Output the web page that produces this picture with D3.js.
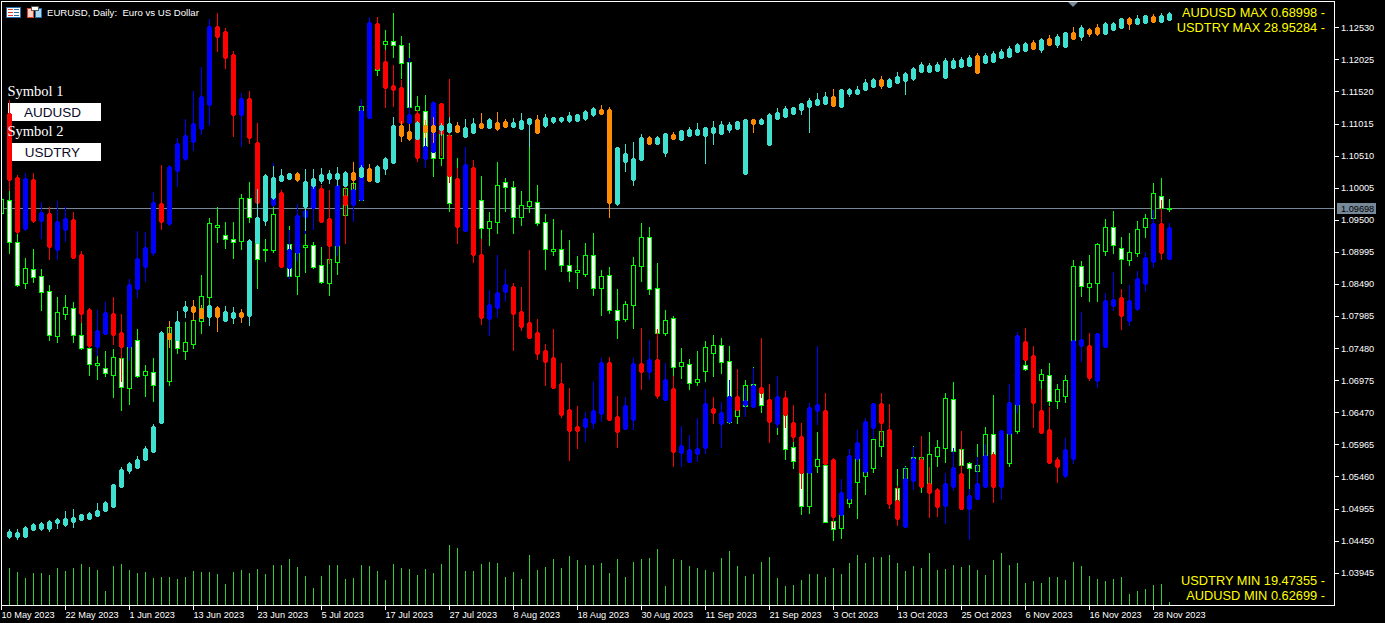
<!DOCTYPE html>
<html><head><meta charset="utf-8">
<script src="https://cdn.jsdelivr.net/npm/d3@7/dist/d3.min.js"></script>
<style>html,body{margin:0;padding:0;background:#000;overflow:hidden}svg{display:block}</style>
</head><body><svg id="c" width="1385" height="623"></svg>
<script>
// Rows are [open, high, low, close]. EURUSD and AUDUSD are in 1e-5 price points, USDTRY in 1e-3 points.
const eurusdBars=[
[109622,109906,109575,109843],[109827,109984,108993,109166],[109166,109323,108473,108489],[108521,108914,108442,108757],[108741,109056,108536,108615],[108631,108741,108096,108379],[108395,108489,107623,107702],[107686,108300,107592,108064],[108033,108332,107954,108143],[108127,108222,107592,107702],
[107702,107907,107482,107497],[107497,107576,107073,107246],[107230,107387,107010,107261],[107183,107450,107057,107104],[107073,107482,106726,107356],[107340,107513,106522,106884],[106868,107545,106616,107513],[107623,107797,107041,107057],[107073,107230,106742,107136],[107120,107340,106663,106915],
[106994,107702,106758,107309],[106978,107907,106915,107828],[107860,107938,107419,107497],[107450,107907,107324,107592],[107561,107970,107498,107938],[107923,108647,107734,108316],[108300,109544,108174,109465],[109402,109717,109166,109434],[109276,109481,109071,109213],[109213,109481,108914,109166],
[109182,109921,109056,109859],[109859,110110,109481,109559],[109481,109748,108442,108898],[109040,109213,108867,109056],[109040,109748,109008,109607],[109591,109701,109040,109150],[109134,109418,108599,108631],[108631,109591,108347,109481],[109087,109308,108694,109119],[109119,109166,108757,108772],
[108804,109087,108521,108536],[108521,109040,108332,108898],[108851,109197,108662,109119],[109591,110079,109544,110016],[110000,110205,109890,110095],[109827,111322,109827,111307],[111275,112031,111165,111873],[111873,112503,111795,112267],[112282,112503,112031,112330],[112330,112770,112078,112267],
[112267,112408,111747,111983],[111999,112298,111118,111291],[111244,111464,111118,111307],[111228,111480,110488,110583],[110583,111086,110205,110488],[110488,111008,110378,110866],[110850,111008,109654,109780],[109434,110488,109386,109906],[109434,110268,109355,109906],[109827,110299,109197,109355],
[109827,110205,109213,109386],[109386,109638,109119,109497],[109481,110425,109308,110063],[110110,110173,109654,110032],[110032,110126,109308,109559],[109559,109969,109434,109748],[109733,110661,109638,109811],[109796,110063,109434,109465],[109481,109607,108741,109056],[109024,109528,108961,109056],
[109056,109355,108709,108804],[108804,109197,108552,108709],[108694,108946,108442,108725],[108662,109150,108631,108961],[108961,109308,108332,108442],[108442,108725,108017,108631],[108647,108773,108048,108096],[108096,108426,107655,107938],[107954,108237,107923,108190],[108174,108930,107812,108804],
[108788,109465,108552,109245],[109245,109402,108347,108426],[108442,108835,107623,107734],[107734,108096,107702,107938],[107970,108001,107057,107199],[107214,107497,107025,107277],[107246,107324,106852,106946],[106962,107450,106915,107010],[107136,107608,106978,107513],[107419,107702,107057,107545],
[107545,107655,107104,107277],[107293,107529,106317,106333],[106427,106758,106317,106679],[106585,106994,106475,106915],[106600,107199,106569,106931],[106789,106915,106490,106600],[106679,106758,106317,106364],[106333,106726,106144,106679],[106443,106679,105750,105908],[105939,106034,105609,105719],
[105813,106049,104885,105011],[105011,106522,104901,105735],[105640,106175,105546,105750],[105656,105735,104759,104759],[104775,104869,104475,104648],[104664,105420,104507,104948],[105058,105656,104995,105577],[105388,105813,104822,105750],[105483,106207,105199,106049],[105609,106175,105546,106065],
[105955,106286,105798,106191],[106049,106175,105105,105262],[105294,105593,104869,105026],[105262,105640,105184,105609],[105451,105955,105341,105782],[105451,106049,105231,105782],[105373,106175,105105,105829],[105798,106049,105640,105939],[105923,106789,105703,106711],[106695,106962,105577,105876],
[105908,106049,105499,105656],[105687,105703,105278,105609],[105562,105986,105357,105656],[105813,106254,105766,106144],[106144,106758,105766,105813],[105892,106175,105813,106128],[105688,106600,105640,106521],[106191,106994,106160,106915],[107230,107309,107151,107167],[107183,107309,106758,106836],
[106994,107167,106836,107088],[107073,107261,106600,106663],[106663,106931,106553,106852],[106742,107073,106647,106994],[107073,108883,106915,108788],[108788,108867,108316,108473],[108458,108961,108237,108521],[108521,109150,108237,109134],[109024,109528,108961,109402],[109402,109654,108993,109119],
[109071,109245,108521,108898],[108883,109308,108804,109008],[108993,109496,108946,109371],[109402,109607,109245,109544],[109544,110095,109434,109937],[109890,110173,109701,109701],[109685,109843,109654,109698]];

const audusdBars=[
[67839,67996,66910,67030],[67067,67091,66391,66403],[66439,67115,66427,67055],[67042,67115,66523,66536],[66536,66765,66330,66644],[66632,66705,66077,66222],[66185,66777,66077,66536],[66427,66705,66294,66572],[66560,66644,66089,66089],[66137,66173,65316,65413],
[65473,65485,65015,65027],[65015,65461,64918,65220],[65172,65558,65172,65437],[65425,65618,65051,65160],[65196,65413,64604,65015],[65015,65835,64858,65775],[65715,66415,65618,66089],[65980,66403,65811,66222],[66149,66886,66125,66765],[66753,67211,66439,66523],
[66499,67211,66487,67199],[67139,67537,66958,67477],[67284,67767,67272,67574],[67489,68105,67392,67718],[67646,68394,67586,68044],[67936,68974,67694,68889],[68889,69046,68587,68756],[68829,68865,68382,68503],[68551,68587,67561,67815],[67815,68080,67441,68020],
[68020,68105,67477,67537],[67489,67718,66753,66753],[66910,66970,66608,66608],[66729,67236,66717,66970],[66886,66910,65980,65980],[65968,66427,65848,66198],[66149,66741,66053,66608],[66584,66910,66391,66668],[66692,67006,66439,66970],[66934,66970,66523,66523],
[66572,66910,66029,66234],[66234,67030,66125,66970],[66849,66946,66270,66729],[66729,67030,66536,66922],[66789,68008,66789,67875],[67779,68998,67779,68937],[68925,68998,68370,68370],[68467,68599,67912,68141],[68177,68418,67924,68117],[68153,68237,67718,67718],
[67718,68503,67718,67827],[67839,67875,67260,67296],[67284,67598,67187,67441],[67368,67984,67368,67972],[67960,67960,67332,67586],[67574,68249,67006,67079],[67055,67175,66270,66463],[66415,67429,66415,67224],[67187,67272,66041,66125],[66137,66318,65292,65365],
[65353,65703,65160,65534],[65485,66125,65377,65679],[65679,65956,65570,65775],[65751,65787,64978,65413],[65449,65739,65220,65256],[65316,66185,65123,65123],[65196,65353,64870,64930],[64978,65051,64556,64834],[64894,65232,64520,64520],[64580,64822,64170,64194],
[64266,64520,63651,64001],[64061,64303,63796,64001],[64049,64230,63880,64158],[64097,64592,64037,64254],[64206,64882,64122,64834],[64834,64894,64134,64134],[64182,64423,63808,63989],[64025,64411,64025,64315],[64134,64882,64025,64822],[64822,65244,64508,64713],
[64713,65099,64628,64870],[64870,65232,64399,64423],[64375,64822,64375,64628],[64520,64665,63578,63747],[63735,64061,63578,63832],[63627,63953,63627,63784],[63723,64158,63639,63796],[63796,64508,63735,64339],[64278,64411,64097,64218],[64085,64351,63808,64230],
[64109,64616,64109,64423],[64423,64749,64254,64254],[64315,64520,64182,64375],[64291,64761,64291,64556],[64532,65123,64411,64459],[64387,64568,63868,64109],[64085,64665,64049,64423],[64411,64484,64049,64194],[64109,64315,63880,63928],[63940,64097,63313,63494],
[63494,64339,63494,64291],[64242,65027,64085,64327],[64254,64459,63603,63603],[63663,63675,62842,62963],[62987,63421,62987,63265],[63180,63784,63180,63711],[63663,64013,63639,63868],[63506,64158,63506,64122],[64037,64339,63916,64339],[64339,64459,63892,64097],
[64025,64327,63071,63120],[63168,63337,62866,62939],[62842,63566,62842,63434],[63397,63808,63301,63675],[63663,63940,63325,63325],[63373,63566,62963,63252],[63301,63313,62975,63084],[63096,63494,62890,63373],[63325,63796,63289,63566],[63494,64001,63059,63059],
[63059,63301,62697,63228],[63180,63687,63180,63373],[63325,63844,63325,63711],[63723,63747,63144,63325],[63325,64013,63180,64013],[63965,64568,63965,64351],[64315,65196,64218,65160],[65087,65244,64858,64858],[64918,65027,64049,64339],[64254,64508,63977,63977],
[64025,64291,63615,63615],[63663,63687,63385,63566],[63458,63916,63446,63784],[63663,65099,63615,65099],[65027,65437,64846,65111],[65039,65184,64616,64641],[64604,65184,64532,65184],[65015,65666,65015,65582],[65510,65920,65461,65594],[65618,65715,65232,65389],
[65329,65763,65280,65582],[65473,65932,65461,65848],[65775,66161,65691,66101],[66041,66668,65980,66511],[66511,66789,66077,66149],[66077,66511,66077,66463]];

const usdtryBars=[
[19503,19647,19485,19611],[19503,19647,19467,19593],[19503,19701,19503,19683],[19629,19755,19629,19737],[19647,19773,19629,19755],[19647,19809,19611,19791],[19755,19845,19665,19827],[19719,19971,19701,19845],[19773,20007,19683,19863],[19809,19917,19809,19917],
[19827,19953,19827,19935],[19881,20115,19881,19989],[19971,20151,19971,20133],[20043,20457,20043,20457],[20403,20763,20403,20727],[20691,20853,20655,20835],[20745,20961,20745,20907],[20889,21141,20889,21105],[21033,21537,21033,21501],[21555,23211,21555,23193],
[23175,23391,22923,23067],[23049,23571,23049,23391],[23571,23751,23463,23661],[23661,23769,23409,23553],[23625,23679,23445,23445],[23463,23679,23319,23679],[23643,23661,23211,23463],[23391,23661,23391,23571],[23445,23643,23355,23553],[23553,23607,23373,23463],
[23481,24867,23319,24849],[24795,25767,24795,25263],[25191,26037,25119,26019],[25605,26181,25587,25983],[25911,26127,25911,26019],[25947,26055,25947,26055],[26055,26073,25911,25929],[25443,26127,25029,25911],[25821,26127,25785,25965],[25911,26145,25875,26037],
[25947,26109,25875,26055],[25947,26163,25839,26055],[25821,26091,25821,26073],[26073,26253,25785,25929],[25983,26199,25983,26163],[26145,26217,25911,25911],[25893,26199,25893,26181],[26127,26343,26037,26325],[26235,27063,26235,26919],[26919,26991,26631,26721],
[26811,26937,26649,26667],[26667,26991,26667,26973],[26919,27009,26703,26793],[26919,27063,26613,26793],[26829,26955,26739,26919],[26793,27063,26793,26955],[26919,26973,26793,26793],[26703,27027,26703,26883],[26775,27045,26775,26955],[26955,27135,26865,26865],
[26865,27045,26865,27027],[26973,27153,26829,26847],[26991,27027,26883,26883],[26883,27045,26883,26973],[26847,27135,26847,27009],[26937,27045,26541,27045],[27027,27099,26775,26775],[26901,27117,26883,27063],[26973,27063,26955,27063],[26991,27063,26973,27063],
[26991,27153,26973,27099],[26991,27117,26991,27117],[27027,27189,27009,27171],[27099,27243,27081,27225],[27207,27279,27117,27117],[27207,27243,25263,25515],[25497,26523,25479,26523],[26253,26577,26091,26415],[25929,26613,25839,26325],[26289,26757,26289,26703],
[26703,26721,26577,26577],[26577,26721,26577,26703],[26415,26775,26361,26775],[26757,26793,26667,26667],[26649,26829,26649,26829],[26721,26883,26721,26847],[26739,26955,26739,26847],[26721,26883,26235,26883],[26775,26991,26577,26883],[26757,26991,26757,26937],
[26829,26973,26793,26937],[26847,26991,26847,26991],[26037,27027,26037,27027],[27027,27027,26793,26937],[26937,27045,26937,27027],[26559,27135,26559,27117],[27027,27225,27027,27153],[27063,27261,27063,27225],[27117,27243,27117,27243],[27189,27315,27117,27315],
[27243,27405,26793,27369],[27279,27495,27279,27387],[27297,27513,27297,27441],[27441,27567,27261,27261],[27243,27567,27243,27567],[27477,27585,27441,27567],[27477,27621,27477,27567],[27549,27747,27549,27693],[27603,27765,27603,27747],[27747,27801,27585,27621],
[27603,27765,27603,27747],[27675,27873,27675,27801],[27711,27873,27477,27855],[27747,27963,27729,27945],[27873,28053,27873,28017],[27873,28035,27873,27999],[27891,28053,27891,28017],[27765,28125,27765,28089],[27945,28125,27945,28089],[27963,28143,27963,28107],
[27981,28179,27981,28143],[28179,28215,27855,27855],[28035,28215,28035,28179],[28053,28251,28053,28215],[28125,28287,28125,28251],[28143,28341,28143,28305],[28233,28395,28233,28377],[28251,28413,28251,28395],[28413,28449,28287,28287],[28269,28485,28233,28467],
[28485,28539,28359,28359],[28359,28557,28323,28521],[28323,28593,28323,28593],[28593,28683,28467,28467],[28503,28719,28449,28683],[28647,28665,28521,28557],[28683,28737,28539,28557],[28557,28773,28557,28755],[28629,28773,28629,28755],[28665,28845,28665,28845],
[28845,28863,28647,28737],[28737,28899,28737,28845],[28755,28899,28755,28899],[28881,28917,28773,28773],[28773,28935,28773,28899],[28809,28953,28809,28935]];

// tick volume in thousands, one per bar after the first
const tickVolume=[37,33,27,32,32,30,37,34,37,41,38,35,14,39,41,35,32,33,27,28,28,26,28,34,33,33,31,21,33,35,32,36,31,40,40,46,38,29,17,29,40,40,26,27,40,39,34,25,41,
37,36,30,36,32,41,60,57,34,34,41,43,42,28,33,26,50,35,38,46,37,49,45,40,40,42,32,46,28,43,46,47,56,19,46,45,39,37,35,33,47,54,39,29,31,43,48,27,19,20,25,31,31,28,37,31,42,50,42,48,48,50,42,34,39,37,52,35,36,40,38,40,35,30,45,52,40,42,22,24,22,28,28,25,43,39,29,26,24,26,28,11,14,16,20,21,3];

const priceTicks=[1.12530,1.12025,1.11520,1.11015,1.10510,1.10005,1.09500,1.08995,1.08490,1.07985,1.07480,1.06975,1.06470,1.05965,1.05460,1.04955,1.04450,1.03945];
const dateLabels=["10 May 2023","22 May 2023","1 Jun 2023","13 Jun 2023","23 Jun 2023","5 Jul 2023","17 Jul 2023","27 Jul 2023","8 Aug 2023","18 Aug 2023","30 Aug 2023","11 Sep 2023","21 Sep 2023","3 Oct 2023","13 Oct 2023","25 Oct 2023","6 Nov 2023","16 Nov 2023","28 Nov 2023"];
const lastPrice=1.09698;
const symbolBoxes=[["Symbol 1","AUDUSD"],["Symbol 2","USDTRY"]];
const rangeTop=["AUDUSD MAX 0.68998 -","USDTRY MAX 28.95284 -"];
const rangeBottom=["USDTRY MIN 19.47355 -","AUDUSD MIN 0.62699 -"];

const svg=d3.select("#c");
const SANS="'Liberation Sans',Arial,sans-serif";
const x=d3.scaleLinear().domain([0,146]).range([1,1169]);
const yEur=d3.scaleLinear().domain([1.03945,1.12530]).range([573.7,28.3]);
const yAud=d3.scaleLinear().domain([0.62699,0.68998]).range([538.9,17]);
const yTry=d3.scaleLinear().domain([19.47355,28.95284]).range([538.6,12]);
const yVol=d3.scaleLinear().domain([0,60]).range([605,545]);

svg.append("rect").attr("width",1385).attr("height",623).attr("fill","#000");
const root=svg.append("g").attr("shape-rendering","crispEdges");

// last-price line
root.append("rect").attr("x",1).attr("y",Math.round(yEur(lastPrice))).attr("width",1334).attr("height",1).attr("fill","#778899");

// header
svg.append("text").attr("x",47).attr("y",16).attr("fill","#fff").attr("font-family",SANS).attr("font-size",9.65).style("white-space","pre").text("EURUSD, Daily:  Euro vs US Dollar");
const ic=root.append("g");
ic.append("rect").attr("x",6.5).attr("y",7.5).attr("width",14).attr("height",10).attr("fill","#fff").attr("stroke","#2a6ea8");
[9,12,15].forEach(v=>{ic.append("rect").attr("x",8).attr("y",v).attr("width",5).attr("height",1).attr("fill","#e04030");ic.append("rect").attr("x",14).attr("y",v).attr("width",5).attr("height",1).attr("fill","#2a6ea8");});
ic.append("rect").attr("x",27.5).attr("y",8.5).attr("width",6).attr("height",9).attr("fill","#fbd0c0").attr("stroke","#e04030");
ic.append("rect").attr("x",35.5).attr("y",8.5).attr("width",6).attr("height",9).attr("fill","#a8d8f0").attr("stroke","#2a6ea8");
ic.append("rect").attr("x",31).attr("y",6).attr("width",7).attr("height",4).attr("fill","#fff").attr("stroke","#555");

// symbol panel
symbolBoxes.forEach(([lab,val],i)=>{
  const o=i*40;
  svg.append("text").attr("x",7.5).attr("y",96+o).attr("fill","#fff").attr("font-family","'Liberation Serif',serif").attr("font-size",14.5).text(lab);
  root.append("rect").attr("x",8).attr("y",103+o).attr("width",93).attr("height",18).attr("fill","#fff");
  svg.append("text").attr("x",52.5).attr("y",117+o).attr("text-anchor","middle").attr("fill","#0a0a28").attr("font-family",SANS).attr("font-size",13.5).text(val);
});

// volumes
root.append("g").selectAll("rect").data(tickVolume).join("rect")
  .attr("x",(d,i)=>x(i+1)).attr("width",1)
  .attr("y",d=>Math.round(yVol(d))).attr("height",d=>605-Math.round(yVol(d))).attr("fill","#32cd32");

// EURUSD main candles
const eur=eurusdBars.map(r=>r.map(v=>v/1e5));
const gE=root.append("g");
eur.forEach((r,i)=>{
  const [o,h,l,c]=r, cx=x(i);
  const t=Math.round(yEur(Math.max(o,c))), b=Math.round(yEur(Math.min(o,c)));
  gE.append("rect").attr("x",cx).attr("width",1).attr("y",Math.round(yEur(h))).attr("height",Math.max(1,Math.round(yEur(l))-Math.round(yEur(h))+1)).attr("fill","#00ff00");
  gE.append("rect").attr("x",cx-2).attr("width",5).attr("y",t).attr("height",b-t+1).attr("fill","#00ff00");
  if(b-t>=2) gE.append("rect").attr("x",cx-1).attr("width",3).attr("y",t+1).attr("height",b-t-1).attr("fill",c>=o?"#000":"#fff");
});

// overlay candles
function overlay(bars,div,y,upCol,dnCol){
  const g=root.append("g");
  bars.forEach((r,i)=>{
    const [o,h,l,c]=r.map(v=>v/div), cx=x(i+1), col=c>=o?upCol:dnCol;
    const t=Math.round(y(Math.max(o,c))), b=Math.round(y(Math.min(o,c)));
    const yh=Math.round(y(h)), yl=Math.round(y(l));
    g.append("rect").attr("x",cx).attr("width",1).attr("y",yh).attr("height",Math.max(1,yl-yh+1)).attr("fill",col);
    g.append("rect").attr("x",cx-1).attr("width",3).attr("y",t).attr("height",b-t+1).attr("fill",col);
    if(b-t>=2) g.append("rect").attr("x",cx-2).attr("width",5).attr("y",t+1).attr("height",b-t-1).attr("fill",col);
  });
}
overlay(audusdBars,1e5,yAud,"#0000ff","#ff0000");
overlay(usdtryBars,1e3,yTry,"#40e0d0","#ff8c00");

// cover anything left of the frame
root.append("rect").attr("x",0).attr("y",0).attr("width",1).attr("height",623).attr("fill","#000");

// frame
root.append("rect").attr("x",1.5).attr("y",1.5).attr("width",1333).attr("height",604).attr("fill","none").attr("stroke","#fff");

// axes
const axR=svg.append("g").attr("transform","translate(1335,-1)")
  .call(d3.axisRight(yEur).tickValues(priceTicks).tickFormat(d3.format(".5f")).tickSize(4).tickPadding(2));
const axB=svg.append("g").attr("transform","translate(0,606)")
  .call(d3.axisBottom(x).tickValues(dateLabels.map((d,i)=>i*8)).tickFormat((d,i)=>dateLabels[i]).tickSize(4));
[axR,axB].forEach(a=>{
  a.select(".domain").remove();
  a.selectAll("line").attr("stroke","#fff").attr("shape-rendering","crispEdges");
  a.selectAll("text").attr("fill","#fff").attr("font-family",SANS).attr("font-size",9.2);
});
axB.selectAll("text").attr("text-anchor","start").attr("y",12).attr("dy",0);

// last price tag
root.append("rect").attr("x",1337).attr("y",203).attr("width",39).attr("height",11).attr("fill","#778899");
svg.append("text").attr("x",1341).attr("y",Math.round(yEur(lastPrice))+3.5).attr("fill","#000").attr("font-family",SANS).attr("font-size",9.2).text(d3.format(".5f")(lastPrice));

// top marker
svg.append("path").attr("d","M1068,2 L1078,2 L1073,7 Z").attr("fill","#778899");

// range labels
const rangeText=(arr,ys)=>arr.forEach((t,i)=>svg.append("text").attr("x",1325).attr("y",ys[i]).attr("text-anchor","end").attr("fill","#ffff00").attr("font-family",SANS).attr("font-size",12.8).text(t));
rangeText(rangeTop,[17,32]);
rangeText(rangeBottom,[585,600]);
</script></body></html>
